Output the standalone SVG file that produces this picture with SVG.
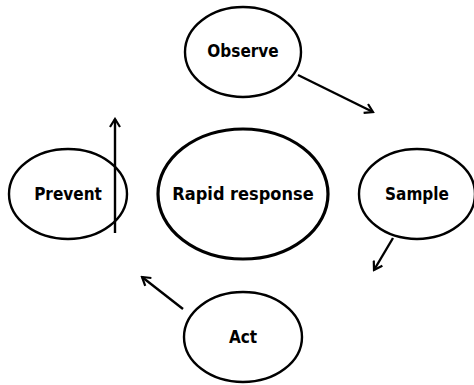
<svg xmlns="http://www.w3.org/2000/svg" width="474" height="385" viewBox="0 0 474 385">
<defs>
<style>
.node{fill:#fff;stroke:#000;stroke-width:2.4}
.main{fill:#fff;stroke:#000;stroke-width:3.2}
.lbl{font-family:"DejaVu Sans Condensed","DejaVu Sans",sans-serif;font-stretch:condensed;font-weight:bold;font-size:17px;text-anchor:middle;fill:#000}
.edge{stroke:#000;stroke-width:2.4;fill:none;marker-end:url(#arr)}
</style>
<marker id="arr" viewBox="0 0 12 12" refX="10" refY="6" markerWidth="12" markerHeight="12" markerUnits="userSpaceOnUse" orient="auto">
<polyline points="2,1 10,6 2,11" fill="none" stroke="#000" stroke-width="2.2"/>
</marker>
</defs>
<rect width="474" height="385" fill="#fff"/>
<g id="observe"><ellipse class="node" cx="243" cy="52" rx="58" ry="45"/><text class="lbl" x="243" y="57">Observe</text></g>
<g id="prevent"><ellipse class="node" cx="68" cy="194" rx="59" ry="45"/><text class="lbl" x="68" y="200">Prevent</text></g>
<g id="rapid"><ellipse class="main" cx="243" cy="194" rx="85" ry="65"/><text class="lbl" x="243" y="200" style="font-size:18px">Rapid response</text></g>
<g id="sample"><ellipse class="node" cx="417" cy="194" rx="58" ry="45"/><text class="lbl" x="417" y="200">Sample</text></g>
<g id="act"><ellipse class="node" cx="243" cy="337" rx="59" ry="45"/><text class="lbl" x="243" y="343">Act</text></g>
<g id="connectors">
<line class="edge" x1="298" y1="75" x2="373" y2="112"/>
<line class="edge" x1="393" y1="238" x2="374" y2="270"/>
<line class="edge" x1="183" y1="309" x2="142" y2="277"/>
<line class="edge" x1="115" y1="233" x2="115" y2="119"/>
</g>
</svg>
